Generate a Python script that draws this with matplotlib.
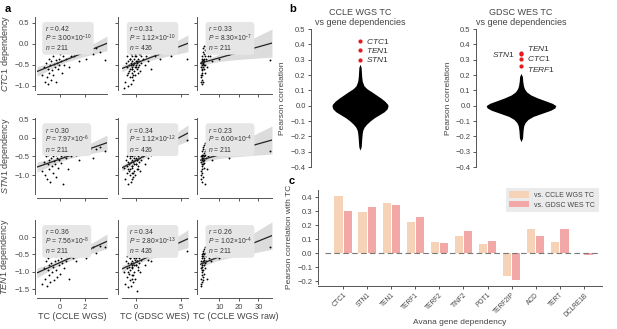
import numpy as np
import matplotlib
matplotlib.use('Agg')
import matplotlib.pyplot as plt

plt.rcParams['font.family'] = ['Liberation Sans', 'DejaVu Sans']
plt.rcParams['mathtext.fontset'] = 'custom'
plt.rcParams['mathtext.rm'] = 'Liberation Sans'
plt.rcParams['mathtext.it'] = 'Liberation Sans:italic'
plt.rcParams['axes.unicode_minus'] = True

# ---------------- data ----------------
# CCLE WGS cell lines (n=211 in the original, a readable subset here)
x_ccle = np.array([-1.45, -1.3, -1.2, -1.15, -1.05, -1.0, -0.95, -0.9, -0.85, -0.8,
                   -0.75, -0.7, -0.65, -0.6, -0.55, -0.5, -0.45, -0.4, -0.35, -0.3,
                   -0.25, -0.2, -0.15, -0.1, -0.05, 0.0, 0.05, 0.1, 0.15, 0.2,
                   0.3, 0.35, 0.45, 0.5, 0.6, 0.7, 0.8, 0.9, 1.0, 1.15,
                   1.3, 1.5, 1.7, 1.9, 2.1, 2.4, 2.6, 2.9, 3.2, 3.6])
x_raw = np.array([0.4, 0.5, 0.6, 0.6, 0.7, 0.8, 0.8, 0.9, 0.9, 1.0,
                  1.0, 1.1, 1.1, 1.2, 1.2, 1.3, 1.3, 1.4, 1.5, 1.5,
                  1.6, 1.7, 1.8, 1.9, 2.0, 2.1, 2.2, 2.3, 2.4, 2.5,
                  2.7, 2.8, 3.0, 3.2, 3.4, 3.6, 3.9, 4.2, 4.5, 5.0,
                  5.6, 6.3, 7.2, 8.5, 10.0, 12.5, 15.0, 20.0, 25.0, 36.0])
y_ctc1_ccle = np.array([-0.75, -0.55, -0.9, -0.45, -0.8, -0.6, -0.95, -0.35, -0.7, -0.5,
                        -0.85, -0.4, -0.62, -0.3, -0.75, -0.48, -0.2, -0.55, -0.38, -0.9,
                        -0.45, -0.1, -0.6, -0.35, -0.5, -0.25, -0.05, -0.42, -0.7, -0.3,
                        -0.15, -0.5, -0.05, -0.35, -0.2, -0.55, -0.1, -0.28, -0.02, -0.3,
                        -0.12, -0.4, 0.0, -0.2, -0.35, -0.05, -0.25, -0.1, -0.2, -0.38])
y_stn1_ccle = np.array([-0.9, -0.65, -1.0, -0.5, -1.1, -0.7, -0.45, -0.85, -0.6, -1.2,
                        -0.55, -0.35, -0.75, -0.5, -0.95, -0.62, -0.3, -0.7, -0.45, -1.05,
                        -0.55, -0.25, -0.8, -0.4, -0.6, -0.2, -0.5, -0.68, -0.35, -1.25,
                        -0.45, -0.15, -0.55, -0.3, -0.85, -0.4, -0.1, -0.5, -0.3, -0.2,
                        -0.45, -0.6, -0.25, -0.05, -0.35, -0.3, -0.55, -0.3, -0.25, -0.35])
y_ten1_ccle = np.array([-1.35, -0.9, -1.2, -0.7, -1.4, -0.95, -0.6, -1.1, -0.8, -1.3,
                        -0.55, -0.75, -1.0, -0.5, -0.85, -1.25, -0.45, -0.7, -0.95, -0.55,
                        -1.15, -0.4, -0.65, -0.8, -0.5, -1.05, -0.35, -0.6, -0.75, -0.45,
                        -0.9, -0.3, -0.55, -0.7, -0.4, -1.2, -0.5, -0.35, -0.6, -0.3,
                        -0.7, -0.45, -0.4, -0.3, -0.6, -0.35, -0.3, -0.45, -0.25, -0.3])

# GDSC WES cell lines (n=426 in the original, a readable subset here)
x_gdsc = np.array([-1.3, -1.2, -1.1, -1.05, -1.0, -0.95, -0.9, -0.85, -0.8, -0.8,
                   -0.75, -0.7, -0.7, -0.65, -0.6, -0.6, -0.55, -0.5, -0.5, -0.45,
                   -0.4, -0.4, -0.35, -0.3, -0.3, -0.25, -0.2, -0.2, -0.15, -0.1,
                   -0.1, -0.05, 0.0, 0.0, 0.05, 0.1, 0.1, 0.15, 0.2, 0.2,
                   0.25, 0.3, 0.35, 0.4, 0.45, 0.5, 0.55, 0.6, 0.7, 0.8,
                   0.9, 1.0, 1.1, 1.2, 1.35, 1.5, 1.7, 1.9, 2.1, 2.4,
                   2.7, 3.0, 3.4, 3.9, 4.5, 5.7, -0.9, -0.6, -0.4, -0.2,
                   0.0, 0.2, 0.4, -0.7, -0.3, 0.1, -0.5, -0.1, 0.3, 0.6])
y_ctc1_gdsc = np.array([-1.05, -0.9, -0.45, -0.75, -0.3, -0.55, -1.0, -0.4, -0.65, -0.2,
                        -0.5, -0.8, -0.35, -0.6, -0.45, -0.95, -0.25, -0.55, -0.7, -0.4,
                        -0.3, -0.6, -0.5, -0.85, -0.15, -0.45, -0.65, -0.35, -0.55, -0.25,
                        -0.75, -0.4, -0.1, -0.5, -0.3, -0.6, -0.2, -0.45, -0.35, -0.05,
                        -0.55, -0.25, -0.4, -0.15, -0.65, -0.3, -0.05, -0.45, -0.2, -0.35,
                        -0.1, -0.5, -0.3, -0.05, -0.4, -0.2, -0.6, -0.15, -0.3, -0.25,
                        -0.35, -0.2, -0.1, -0.3, -0.15, -0.35, -0.7, -0.5, -0.8, -0.45,
                        -0.55, -0.7, -0.25, -0.35, -0.75, -0.4, -0.6, -0.3, -0.5, -0.15])
y_stn1_gdsc = np.array([-0.8, -1.1, -0.6, -0.95, -0.5, -0.75, -1.25, -0.65, -0.9, -0.4,
                        -0.7, -1.0, -0.55, -0.85, -0.45, -1.2, -0.35, -0.75, -0.6, -0.95,
                        -0.5, -0.8, -0.65, -1.05, -0.3, -0.7, -0.9, -0.45, -0.6, -0.35,
                        -1.0, -0.55, -0.25, -0.7, -0.4, -0.85, -0.3, -0.6, -0.5, -0.15,
                        -0.75, -0.35, -0.55, -0.2, -0.9, -0.45, -0.1, -0.6, -0.3, -0.5,
                        -0.2, -0.7, -0.4, -0.1, -0.55, -0.3, -0.45, -0.25, -0.35, -0.2,
                        -0.4, -0.25, -0.15, -0.3, -0.2, -0.05, -0.85, -0.65, -1.1, -0.55,
                        -0.7, -0.85, -0.4, -0.5, -0.95, -0.6, -0.75, -0.45, -0.65, -0.3])
y_ten1_gdsc = np.array([-1.0, -1.35, -0.7, -1.15, -0.55, -0.9, -1.45, -0.75, -1.05, -0.5,
                        -0.85, -1.25, -0.6, -0.95, -0.5, -1.4, -0.45, -0.8, -0.7, -1.1,
                        -0.55, -0.9, -0.75, -1.3, -0.4, -0.8, -1.0, -0.5, -0.65, -0.45,
                        -1.2, -0.6, -0.35, -0.8, -0.5, -1.55, -0.4, -0.7, -0.55, -0.3,
                        -0.85, -0.45, -0.6, -0.35, -1.0, -0.5, -0.3, -0.65, -0.4, -0.55,
                        -0.35, -0.8, -0.5, -0.3, -0.65, -0.4, -0.7, -0.35, -0.45, -0.3,
                        -0.5, -0.4, -0.3, -0.45, -0.35, -0.4, -1.0, -0.75, -1.2, -0.6,
                        -0.8, -0.95, -0.5, -0.6, -1.1, -0.7, -0.85, -0.5, -0.75, -0.4])

genes_a = ['CTC1', 'STN1', 'TEN1']
r_text = [['0.42', '0.31', '0.33'], ['0.30', '0.34', '0.23'], ['0.36', '0.34', '0.26']]
p_mant = [['3.00', '1.12', '8.30'], ['7.97', '1.12', '6.00'], ['7.56', '2.80', '1.02']]
p_exp = [['10', '10', '7'], ['6', '12', '4'], ['8', '13', '4']]
n_text = ['211', '426', '211']
x_names = ['TC (CCLE WGS)', 'TC (GDSC WES)', 'TC (CCLE WGS raw)']

# violin outlines (half-width relative to widest point)
v1_y = [0.27, 0.25, 0.22, 0.19, 0.16, 0.13, 0.11, 0.09, 0.07, 0.05, 0.03, 0.01, 0.0,
        -0.02, -0.04, -0.06, -0.08, -0.1, -0.12, -0.14, -0.16, -0.18, -0.2, -0.22, -0.25, -0.27, -0.29]
v1_w = [0.0, 0.04, 0.05, 0.06, 0.08, 0.14, 0.25, 0.42, 0.58, 0.74, 0.88, 0.98, 1.0,
        0.97, 0.86, 0.68, 0.5, 0.36, 0.24, 0.15, 0.1, 0.08, 0.07, 0.06, 0.05, 0.04, 0.0]
v2_y = [0.21, 0.19, 0.16, 0.13, 0.11, 0.09, 0.07, 0.05, 0.03, 0.015, 0.0,
        -0.015, -0.03, -0.05, -0.07, -0.09, -0.11, -0.13, -0.16, -0.19, -0.21, -0.235]
v2_w = [0.0, 0.04, 0.05, 0.07, 0.1, 0.16, 0.28, 0.48, 0.72, 0.9, 1.0,
        0.97, 0.85, 0.6, 0.35, 0.2, 0.12, 0.08, 0.06, 0.05, 0.045, 0.0]
v1_top_genes = ['CTC1', 'TEN1', 'STN1']
v1_top_r = [0.42, 0.36, 0.30]
v2_top_genes = ['TEN1', 'STN1', 'CTC1', 'TERF1']
v2_top_r = [0.345, 0.335, 0.305, 0.26]

# panel c
genes_c = ['CTC1', 'STN1', 'TEN1', 'TERF1', 'TERF2', 'TINF2', 'POT1', 'TERF2IP', 'ACD', 'TERT', 'DCLRE1B']
r_ccle = [0.41, 0.295, 0.355, 0.225, 0.08, 0.125, 0.065, -0.16, 0.175, 0.08, 0.0]
r_gdsc = [0.30, 0.33, 0.34, 0.255, 0.07, 0.155, 0.09, -0.19, 0.12, 0.175, -0.015]

# ---------------- figure ----------------
W, H = 617, 329
fig = plt.figure(figsize=(W / 100, H / 100), dpi=100)
GREY = '#555555'


def add_ax(l, t, r, b):
    return fig.add_axes([l / W, 1 - b / H, (r - l) / W, (b - t) / H])


def style(ax, left_off=2, bottom_off=3):
    for s in ['top', 'right']:
        ax.spines[s].set_visible(False)
    ax.spines['left'].set_position(('outward', left_off))
    ax.spines['bottom'].set_position(('outward', bottom_off))
    for s in ['left', 'bottom']:
        ax.spines[s].set_color(GREY)
        ax.spines[s].set_linewidth(0.7)
    ax.tick_params(length=2.5, width=0.7, color=GREY, labelsize=5.5, labelcolor='#444444', pad=1.5)
    ax.patch.set_alpha(0)


def regplot(ax, x, y, xlim):
    k, b0 = np.polyfit(x, y, 1)
    xs = np.linspace(xlim[0], xlim[1], 100)
    n = len(x)
    resid = y - (k * x + b0)
    s = np.sqrt(np.sum(resid ** 2) / (n - 2))
    sxx = np.sum((x - x.mean()) ** 2)
    se = s * np.sqrt(1 / n + (xs - x.mean()) ** 2 / sxx)
    ax.fill_between(xs, k * xs + b0 - 1.96 * se, k * xs + b0 + 1.96 * se, color='#dcdcdc', lw=0, zorder=1)
    ax.scatter(x, y, s=1.8, c='k', lw=0, zorder=2)
    ax.plot(xs, k * xs + b0, color='#222222', lw=0.9, zorder=3)


col_px = [(37, 107), (122, 188), (200, 272)]
left_offs = [1.5, 3, 2]
row_px = [(17, 90), (118, 194), (220, 294)]
xlims = [(-1.84, 3.76), (-1.56, 5.78), (0, 37)]
ylims = [(-1.1, 0.64), (-1.51, 0.53), (-1.64, 0.49)]
yticks = [[-1.0, -0.5, 0.0, 0.5], [-1.0, -0.5, 0.0, 0.5], [-1.5, -1.0, -0.5, 0.0]]
xticks = [[0, 2], [0, 5], [10, 20, 30]]
x_data = [x_ccle, x_gdsc, x_raw]
y_data = [[y_ctc1_ccle, y_ctc1_gdsc, y_ctc1_ccle],
          [y_stn1_ccle, y_stn1_gdsc, y_stn1_ccle],
          [y_ten1_ccle, y_ten1_gdsc, y_ten1_ccle]]

for i in range(3):
    for j in range(3):
        ax = add_ax(col_px[j][0], row_px[i][0], col_px[j][1], row_px[i][1])
        regplot(ax, x_data[j], y_data[i][j], xlims[j])
        style(ax, left_offs[j], 3)
        ax.set_yticks(yticks[i])
        ax.set_xticks(xticks[j])
        ax.set_xlim(xlims[j])
        ax.set_ylim(ylims[i])
        if j > 0:
            ax.set_yticklabels([])
        else:
            ax.set_ylabel(r'$\it{' + genes_a[i] + '}$ dependency', fontsize=6.5, color='#444444', labelpad=2)
        if i < 2:
            ax.set_xticklabels([])
        else:
            ax.set_xlabel(x_names[j], fontsize=6.5, color='#444444', labelpad=1)
        txt = (r'$\it{r}$ = ' + r_text[i][j] + '\n' +
               r'$\it{P}$ = ' + p_mant[i][j] + r'×10$^{-' + p_exp[i][j] + '}$\n' +
               r'$\it{n}$ = ' + n_text[j])
        ax.text(0.11, 0.9, txt, transform=ax.transAxes, fontsize=4.9, va='top', ha='left',
                color='#333333', linespacing=0.92, zorder=4,
                bbox=dict(boxstyle='round,pad=0.35,rounding_size=0.5', fc='#e6e6e6', ec='none'))

# ---------------- panel b ----------------
violins = [
    (add_ax(314, 29, 406, 167), v1_y, v1_w, 0.61, v1_top_genes, v1_top_r, 'CCLE WGS TC\nvs gene dependencies'),
    (add_ax(479, 29, 563, 167), v2_y, v2_w, 0.83, v2_top_genes, v2_top_r, 'GDSC WES TC\nvs gene dependencies'),
]
for k, (ax, vy, vw, scale, tg, tr, title) in enumerate(violins):
    vw = np.array(vw) * scale
    ax.fill_betweenx(vy, -vw, vw, color='black', lw=0)
    ax.scatter([0] * len(tr), tr, s=9, c='#e8191c', lw=0, zorder=3)
    style(ax, 2, 0)
    ax.set_xlim(-1, 1)
    ax.set_ylim(-0.4, 0.5)
    ax.set_yticks(np.round(np.arange(-0.4, 0.51, 0.1), 1))
    ax.spines['bottom'].set_visible(False)
    ax.set_xticks([])
    ax.set_ylabel('Pearson correlation', fontsize=6, color='#444444', labelpad=3)
    ax.set_title(title, fontsize=6.5, color='#444444', pad=3, linespacing=1.1)
    for g, r in zip(tg, tr):
        off = (4, 0)
        ha = 'left'
        if k == 0:
            off = (4, 0)
        elif g == 'STN1':
            off, ha = (-4, 0), 'right'
        elif g == 'TEN1':
            off = (4, 3)
        elif g == 'TERF1':
            off = (4, -3)
        ax.annotate(r'$\it{' + g + '}$', (0, r), xytext=off, textcoords='offset points',
                    fontsize=6, color='#333333', ha=ha, va='center')

# ---------------- panel c ----------------
axc = add_ax(318, 190, 602, 284)
pos = np.arange(len(genes_c))
bw = 0.34
axc.bar(pos - bw / 2 - 0.02, r_ccle, width=bw, color='#f6d2b6', label='vs. CCLE WGS TC', zorder=2)
axc.bar(pos + bw / 2 + 0.02, r_gdsc, width=bw, color='#f1a8a6', label='vs. GDSC WES TC', zorder=2)
axc.axhline(0, xmin=0.025, xmax=0.985, color='#777777', lw=0.8, ls=(0, (5, 3)), zorder=3)
style(axc, 0, 1.5)
axc.set_xlim(-1.04, 10.75)
axc.set_ylim(-0.22, 0.45)
axc.set_yticks([-0.2, -0.1, 0.0, 0.1, 0.2, 0.3, 0.4])
axc.set_xticks(pos)
axc.set_xticklabels(genes_c)
axc.tick_params(axis='x', labelrotation=45, labelsize=4.8)
plt.setp(axc.get_xticklabels(), ha='right', rotation_mode='anchor')
axc.set_ylabel('Pearson correlation with TC', fontsize=6, color='#444444', labelpad=3)
axc.set_xlabel('Avana gene dependency', fontsize=6, color='#444444', labelpad=1)
leg = axc.legend(loc='upper right', fontsize=5, frameon=True, handlelength=2.8, handleheight=1.0,
                 borderpad=0.5, labelspacing=0.35, bbox_to_anchor=(1.0, 1.06))
leg.get_frame().set_facecolor('#e6e6e6')
leg.get_frame().set_edgecolor('none')
leg.get_frame().set_boxstyle('square', pad=0)
for t in leg.get_texts():
    t.set_color('#444444')

# panel letters
fig.text(5 / W, 1 - 12 / H, 'a', fontsize=8, fontweight='bold')
fig.text(289 / W, 1 - 12 / H, 'b', fontsize=8, fontweight='bold')
fig.text(289 / W, 1 - 184 / H, 'c', fontsize=8, fontweight='bold')

fig.savefig('out.png', dpi=100)
